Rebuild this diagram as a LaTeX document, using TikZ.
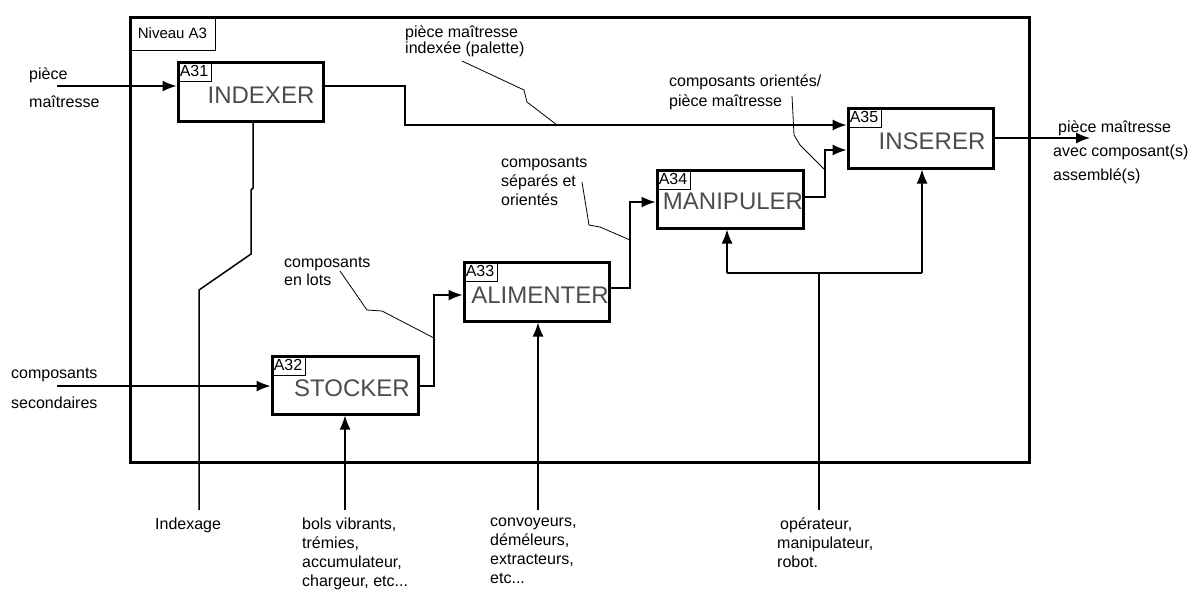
\documentclass[tikz,border=0pt]{standalone}
\usepackage{fontspec}
\setmainfont{Liberation Sans}
\usetikzlibrary{arrows.meta}
\begin{document}
\begin{tikzpicture}[x=1pt,y=-1pt,
  lbl/.style={font=\fontsize{16}{19}\selectfont, align=left, inner sep=0pt, anchor=west},
  lbltight/.style={font=\fontsize{16}{16}\selectfont, align=left, inner sep=0pt, anchor=west},
  actbox/.style={draw, line width=3pt, inner sep=0pt},
  tagbox/.style={draw, line width=1pt, anchor=north west, inner sep=0pt, minimum width=34pt, minimum height=20pt, font=\fontsize{16}{16}\selectfont},
  titletxt/.style={font=\fontsize{24}{24}\selectfont, text=black!70, inner sep=0pt},
  flow/.style={line width=1.5pt},
  arr/.style={line width=1.5pt, -{Latex[length=14pt,width=11pt]}},
  leader/.style={line width=0.8pt}
]
\useasboundingbox (0,0) rectangle (1198,590);
% frame
\node[draw, line width=3pt, minimum width=899pt, minimum height=445pt, inner sep=0pt, anchor=north west] (frame) at (129,16) {};
\node[draw, line width=1pt, minimum width=86pt, minimum height=34pt, inner sep=0pt, anchor=north west, font=\fontsize{15}{15}\selectfont] (niv) at (129,16) {Niveau A3};

% boxes
\node[actbox, minimum width=145pt, minimum height=59pt] (A31) at (250.5,91.5) {};
\node[actbox, minimum width=146pt, minimum height=58pt] (A32) at (345,385) {};
\node[actbox, minimum width=145pt, minimum height=59pt] (A33) at (536.5,291.5) {};
\node[actbox, minimum width=146pt, minimum height=58pt] (A34) at (730,199) {};
\node[actbox, minimum width=145pt, minimum height=60pt] (A35) at (920.5,138) {};

\node[tagbox] (g31) at (A31.north west) {A31};
\node[tagbox] (g32) at (A32.north west) {A32};
\node[tagbox] (g33) at (A33.north west) {A33};
\node[tagbox] (g34) at (A34.north west) {A34};
\node[tagbox] (g35) at (A35.north west) {A35};

\node[titletxt] (t31) at (261,95) {INDEXER};
\node[titletxt] (t32) at (352,388) {STOCKER};
\node[titletxt] (t33) at (540,295) {ALIMENTER};
\node[titletxt] (t34) at (733,201) {MANIPULER};
\node[titletxt] (t35) at (932,141) {INSERER};

% coordinates
\coordinate (in1) at (57,86);
\coordinate (b1) at (405,125);
\coordinate (in2) at (57,386);
\coordinate (b2) at (434,295);
\coordinate (b3a) at (630,288);
\coordinate (b3) at (630,202);
\coordinate (b4a) at (825,197);
\coordinate (b4) at (825,150);
\coordinate (out1) at (1090,138);
\coordinate (idx1) at (253,188);
\coordinate (idx2) at (251,190);
\coordinate (idx3) at (251,254);
\coordinate (idx4) at (199,290);
\coordinate (idxend) at (199,510);
\coordinate (m2) at (345,510);
\coordinate (m3) at (538,510);
\coordinate (m4) at (819,510);
\coordinate (j1) at (727,273);
\coordinate (j2) at (922,273);

% flows
\draw[arr] (in1) -- (in1 -| A31.west);
\draw[arr] (in1 -| A31.east) -| (b1) -- (b1 -| A35.west);
\draw[arr] (in2) -- (in2 -| A32.west);
\draw[arr] (in2 -| A32.east) -| (b2) -- (b2 -| A33.west);
\draw[arr] (b3a -| A33.east) -- (b3a) -- (b3) -- (b3 -| A34.west);
\draw[arr] (b4a -| A34.east) -- (b4a) -- (b4) -- (b4 -| A35.west);
\draw[arr] (out1 -| A35.east) -- (out1);
\draw[flow] (A31.south -| idx1) -- (idx1) -- (idx2) -- (idx3) -- (idx4) -- (idxend);
\draw[arr] (m2) -- (m2 |- A32.south);
\draw[arr] (m3) -- (m3 |- A33.south);
\draw[flow] (m4) -- (m4 |- j1);
\draw[flow] (j1) -- (j2);
\draw[arr] (j1) -- (j1 |- A34.south);
\draw[arr] (j2) -- (j2 |- A35.south);

% labels
\node[lbl, font=\fontsize{16}{28}\selectfont] (lpm) at (29,88) {pièce\\maîtresse};
\node[lbl, font=\fontsize{16}{30}\selectfont] (lcs) at (11,388) {composants\\secondaires};
\node[lbltight] (lpi) at (405,41) {pièce maîtresse\\indexée (palette)};
\node[lbltight, font=\fontsize{16}{20}\selectfont] (lco) at (669,92) {composants orientés/\\pièce maîtresse};
\node[lbl] (lsep) at (501,181) {composants\\séparés et\\orientés};
\node[lbltight, font=\fontsize{16}{18}\selectfont] (llot) at (284,271) {composants\\en lots};
\node[lbl, font=\fontsize{16}{24}\selectfont] (lout) at (1053,152) {\hspace*{5pt}pièce maîtresse\\avec composant(s)\\assemblé(s)};
\node[lbl, anchor=north west] (lidx) at (155,518) {Indexage};
\node[lbl, anchor=north west] (lbols) at (302,518) {bols vibrants,\\trémies,\\accumulateur,\\chargeur, etc...};
\node[lbl, anchor=north west] (lconv) at (490,518) {convoyeurs,\\déméleurs,\\extracteurs,\\etc...};
\node[lbl, anchor=north west] (lop) at (777,518) {\hspace*{3pt}opérateur,\\manipulateur,\\robot.};

% leaders
\draw[leader] (462,61) -- (524,90) -- (527,102) -- (557,125);
\draw[leader] (792,96) -- (794,135) -- (800,145) -- (b4a |- 0,170);
\draw[leader] (582,182) -- (589,225) -- (600,227) -- (b3 |- 0,240);
\draw[leader] (340,271) -- (367,310) -- (382,311) -- (b2 |- 0,338);
\end{tikzpicture}
\end{document}
